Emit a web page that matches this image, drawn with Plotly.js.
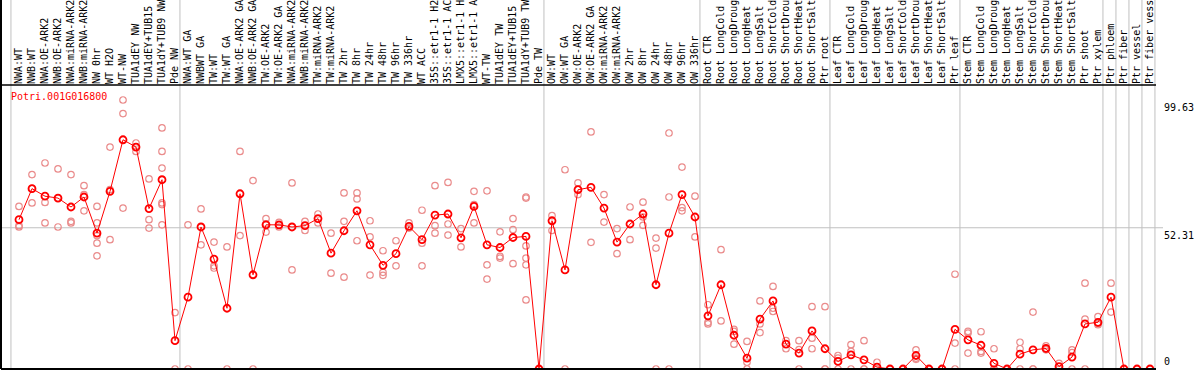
<!DOCTYPE html>
<html>
<head>
<meta charset="utf-8">
<script src="https://cdn.plot.ly/plotly-3.0.1.min.js"></script>
<style>html,body{margin:0;padding:0;background:#fff;}#chart{width:1194px;height:370px;}</style>
</head>
<body>
<div id="chart"></div>
<script>
const geneName = "Potri.001G016800";

const sampleLabels = [
"NWA:WT","NWB:WT","NWA:OE-ARK2","NWB:OE-ARK2","NWA:miRNA-ARK2","NWB:miRNA-ARK2","NW 0hr","WT H2O","WT-NW","TUA1dEY NW","TUA1dEY+TUB15 NW","TUA1dY+TUB9 NW","Pde NW",
"NWA:WT GA","NWBWT GA","TW:WT","TW:WT GA","NWA:OE-ARK2 GA","NWB:OE-ARK2 GA","TW:OE-ARK2","TW:OE-ARK2 GA","NWA:miRNA-ARK2","NWB:miRNA-ARK2","TW:miRNA-ARK2","TW:miRNA-ARK2","TW 2hr","TW 8hr","TW 24hr","TW 48hr","TW 96hr","TW 336hr","WT ACC","35S::etr1-1 H2O","35S::etr1-1 ACC","LMX5::etr1-1 H2O","LMX5::etr1-1 ACC","WT-TW","TUA1dEY TW","TUA1dEY+TUB15 TW","TUA1dY+TUB9 TW","Pde TW",
"OW:WT","OW:WT GA","OW:OE-ARK2","OW:OE-ARK2 GA","OW:miRNA-ARK2","OW:miRNA-ARK2","OW 2hr","OW 8hr","OW 24hr","OW 48hr","OW 96hr","OW 336hr",
"Root CTR","Root LongCold","Root LongDrought","Root LongHeat","Root LongSalt","Root ShortCold","Root ShortDrought","Root ShortHeat","Root ShortSalt","Ptr root",
"Leaf CTR","Leaf LongCold","Leaf LongDrought","Leaf LongHeat","Leaf LongSalt","Leaf ShortCold","Leaf ShortDrought","Leaf ShortHeat","Leaf ShortSalt","Ptr leaf",
"Stem CTR","Stem LongCold","Stem LongDrought","Stem LongHeat","Stem LongSalt","Stem ShortCold","Stem ShortDrought","Stem ShortHeat","Stem ShortSalt","Ptr shoot","Ptr xylem",
"Ptr phloem","Ptr fiber","Ptr vessel","Ptr fiber vessel"
];

const groupSizes = [13, 28, 12, 10, 10, 11, 1, 1, 1, 1];

const meanValues = [
55.3,66.8,64.0,63.3,60.0,63.7,50.3,65.8,84.9,82.2,59.4,70.1,10.5,
26.6,52.6,40.7,22.5,64.9,34.9,53.4,53.4,52.6,53.1,55.7,42.9,51.2,58.6,46.0,38.4,42.7,52.8,47.9,57.0,57.4,48.6,60.2,46.0,45.0,48.7,49.1,0,
54.9,36.7,66.4,67.3,59.6,47.0,53.7,57.4,31.2,50.3,64.6,56.3,
19.7,31.2,12.5,4.0,18.5,25.2,9.2,5.9,14.1,7.5,
2.8,5.2,3.4,0.7,0,0,5.0,0,0,14.7,
10.8,8.8,2.1,0,5.5,7.1,7.6,0.9,4.4,16.7,17.3,
26.6,0,0,0
];

const replicateValues = [
[60.2,52.6,53.1],[72.0,61.5,66.8],[76.3,61.7,54.1],[74.1,52.6,63.3],[72.0,54.7,54.1],[67.9,64.6,58.6],[60.2,54.1,49.4,46.6,41.9],[82.2,66.4,47.9],[99.63,94.6,59.6],[83.7,80.6,82.3],[70.4,55.3,52.2],[89.3,80.6,74.4,61.5,60.9,53.4],[20.9,0],
[53.4,0],[59.3,46.0],[47.0,38.2,37.4],[45.2,0],[80.6,49.4],[69.8,0],[55.7,50.7,53.8],[54.3,52.6,53.3],[68.9,36.7],[54.7,51.3],[57.4,54.1],[50.3,35.5],[65.2,54.7,34.0],[65.2,63.0,47.5],[54.9,48.9,34.8],[43.8,35.8,34.7],[47.5,38.2],[54.1,52.2],[58.8,46.6,38.2],[67.9,53.1,50.3],[69.1,53.7,49.6],[52.0,45.2],[65.8,60.9,54.1],[66.0,38.6,33.3],[50.8,41.7,41.1],[55.7,51.6,39.0],[63.7,63.3,45.6,41.1,38.6,25.6],[0,0],
[56.8,51.3],[73.8,0],[68.9,64.6],[87.8,46.9],[64.6,54.4],[52.0,42.7],[60.0,47.9],[61.8,56.3,53.2],[48.5,44.8,0],[87.4,63.7,0],[74.8,59.8,58.6],[64.0,48.9],
[23.8,17.3,16.7],[44.2,17.8],[14.7,13.9,9.2],[10.2,2.5,0],[25.2,16.7,13.5],[30.6,22.5,21.3],[10.5,7.5],[10.5,7.2,0],[23.1,11.4,7.5],[23.1,0,0],
[5.0,4.0,0],[9.0,6.5,0],[10.5,0,0],[2.5,0],[0,0],[0,0],[7.1,4.0,3.6],[0,0],[0,0],[35.1,9.6,0],
[13.9,13.3,5.9],[13.8,6.5,5.9],[7.5,0,0],[0,0],[9.9,7.5,0],[21.1,0,0],[8.6,7.1],[2.1,0],[7.1,6.1,0],[31.8,18.5,0],[19.4,16.9,16.4],
[31.8,21.1],[0,0],[0,0],[0,0]
];

const yTickValues = [0, 52.31, 99.63];
const yTickText = ["0", "52.31", "99.63"];

// ---- layout geometry ----
const W = 1194, H = 370;
const M = {l: 1, r: 38, t: 85, b: 1};
const plotW = W - M.l - M.r, plotH = H - M.t - M.b;
const pxPerCol = 13;
const xMin = -18 / pxPerCol;
const xMax = xMin + plotW / pxPerCol;
const yMax = plotH / 2.70;
const xp = v => (v - xMin) / (xMax - xMin);
const yp = v => v / yMax;
const topExt = 1 + M.t / plotH;

const idx = sampleLabels.map((_, i) => i);
const repX = [], repY = [];
replicateValues.forEach((arr, i) => arr.forEach(v => { repX.push(i); repY.push(v); }));

const grey = "rgb(192,192,192)";
const shapes = [];
let b = -0.5;
const bounds = [b];
groupSizes.forEach(s => { b += s; bounds.push(b); });
bounds.forEach(v => {
  shapes.push({type: "line", xref: "paper", yref: "paper", x0: xp(v - 0.12), x1: xp(v - 0.12), y0: 0, y1: topExt,
    line: {color: grey, width: 1}, layer: "below"});
});
shapes.push({type: "line", xref: "paper", yref: "paper", x0: 0, x1: 1 + 7 / plotW, y0: yp(yTickValues[1]), y1: yp(yTickValues[1]),
  line: {color: grey, width: 1}, layer: "below"});
shapes.push({type: "line", xref: "paper", yref: "paper", x0: 0, x1: 1, y0: 1, y1: 1, line: {color: "black", width: 1.5}});
shapes.push({type: "line", xref: "paper", yref: "paper", x0: 0, x1: 1, y0: 0, y1: 0, line: {color: "black", width: 2}});
shapes.push({type: "line", xref: "paper", yref: "paper", x0: 0, x1: 0, y0: 0, y1: topExt, line: {color: "black", width: 2}});

const mono = "DejaVu Sans Mono, monospace";
const annotations = [
  {text: geneName, xref: "paper", yref: "paper", x: 8 / plotW, y: 1 - 12 / plotH, xanchor: "left", yanchor: "middle",
   showarrow: false, font: {family: mono, size: 10, color: "red"}},
  {text: yTickText[2], xref: "paper", yref: "paper", x: 1, xshift: 6, y: yp(yTickValues[2]), xanchor: "left", yanchor: "top",
   showarrow: false, font: {family: mono, size: 10, color: "black"}},
  {text: yTickText[1], xref: "paper", yref: "paper", x: 1, xshift: 6, y: yp(yTickValues[1]), xanchor: "left", yanchor: "top",
   showarrow: false, font: {family: mono, size: 10, color: "black"}},
  {text: yTickText[0], xref: "paper", yref: "paper", x: 1, xshift: 6, y: yp(yTickValues[0]), xanchor: "left", yanchor: "bottom",
   showarrow: false, font: {family: mono, size: 10, color: "black"}}
];

const traces = [
  {x: repX, y: repY, type: "scatter", mode: "markers", hoverinfo: "skip",
   marker: {symbol: "circle-open", size: 6.5, color: "rgb(234,140,140)", line: {width: 1.2}}},
  {x: idx, y: meanValues, type: "scatter", mode: "lines+markers",
   line: {color: "red", width: 1},
   marker: {symbol: "circle-open", size: 7, color: "red", line: {width: 1.8}}}
];

const layout = {
  width: W, height: H, margin: {l: M.l, r: M.r, t: M.t, b: M.b, pad: 0},
  paper_bgcolor: "white", plot_bgcolor: "white", showlegend: false,
  xaxis: {range: [xMin, xMax], side: "top", tickmode: "array", tickvals: idx, ticktext: sampleLabels,
    tickangle: -90, ticks: "", showgrid: false, zeroline: false, showline: false,
    tickfont: {family: mono, size: 10, color: "black"}, fixedrange: true},
  yaxis: {range: [0, yMax], showticklabels: false, showgrid: false, zeroline: false, showline: false, ticks: "", fixedrange: true},
  shapes: shapes, annotations: annotations
};

Plotly.newPlot("chart", traces, layout, {staticPlot: true});
</script>
</body>
</html>
